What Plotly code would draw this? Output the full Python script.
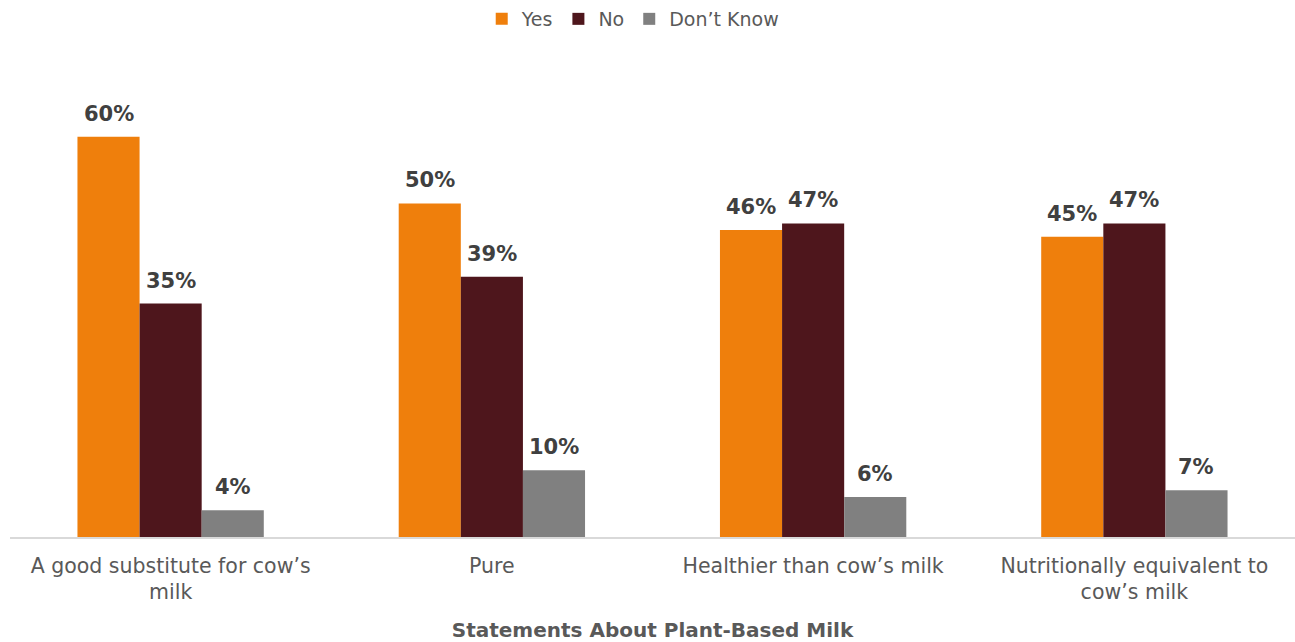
import plotly.graph_objects as go

categories = ["A good substitute for cow’s<br>milk", "Pure", "Healthier than cow’s milk", "Nutritionally equivalent to<br>cow’s milk"]
yes_vals = [60, 50, 46, 45]
no_vals = [35, 39, 47, 47]
dk_vals = [4, 10, 6, 7]
series = [("Yes", yes_vals, "#EF7F0C"), ("No", no_vals, "#4E161C"), ("Don’t Know", dk_vals, "#808080")]

fig = go.Figure()
for name, vals, col in series:
    fig.add_trace(go.Bar(name=name, x=categories, y=vals, marker=dict(color=col, line=dict(width=0))))

bar_px = 62
offsets = [-bar_px, 0, bar_px]
for (name, vals, col), off in zip(series, offsets):
    for c, v in zip(categories, vals):
        fig.add_annotation(x=c, y=v, text=f"<b>{v}%</b>", showarrow=False, yanchor="bottom",
                           xshift=off, yshift=9, font=dict(size=21, color="#404040"))

fig.update_layout(
    width=1295, height=642,
    barmode="group", bargap=0.42, bargroupgap=0,
    plot_bgcolor="white", paper_bgcolor="white",
    font=dict(family="DejaVu Sans", color="#595959", size=20),
    margin=dict(l=10, r=0, t=70, b=105),
    legend=dict(orientation="h", x=0.485, xanchor="center", y=1.0, yanchor="top",
                yref="container", font=dict(size=19, color="#595959"),
                traceorder="normal", itemwidth=30),
    xaxis=dict(showline=True, linecolor="#D9D9D9", linewidth=2, ticks="", tickfont=dict(size=20.5, color="#595959"),
               title=dict(text="<b>Statements About Plant-Based Milk</b>", font=dict(size=20, color="#595959"), standoff=22),
               ticklabelstandoff=9),
    yaxis=dict(visible=False, range=[0, 70]),
)
fig.write_html("out.html")
